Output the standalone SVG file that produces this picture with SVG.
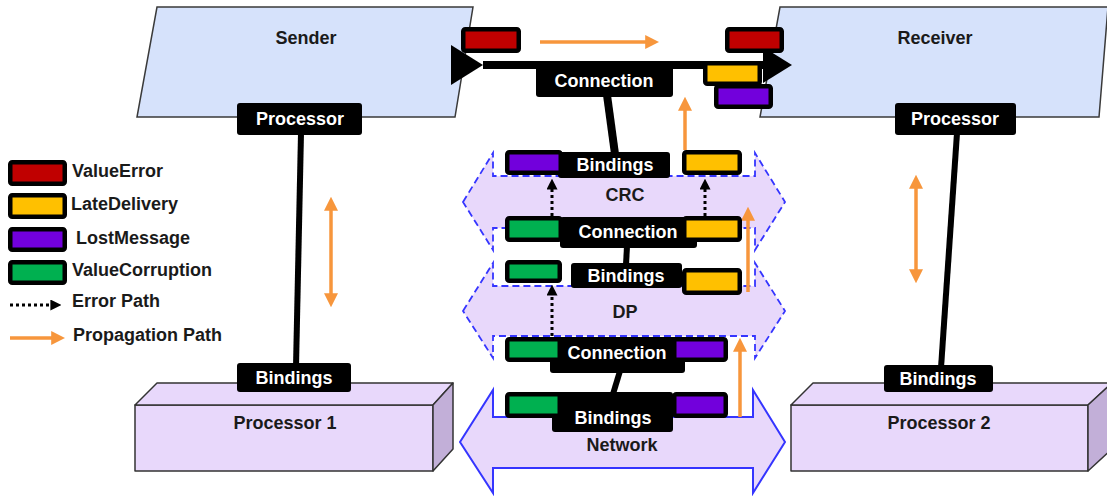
<svg xmlns="http://www.w3.org/2000/svg" width="1107" height="496" viewBox="0 0 1107 496">
<style>
text{font-family:"Liberation Sans",Arial,sans-serif;font-weight:bold;font-size:18px}
.w{fill:#fff;text-anchor:middle}
.k{fill:#1a1a1a;text-anchor:middle}
.lg{fill:#1a1a1a}
.lab{fill:#000}
.eb{stroke:#000;stroke-width:4.5}
.r{fill:#c00000}.y{fill:#ffc000}.p{fill:#7200dc}.g{fill:#00b050}
.comp{fill:#d6e2fb;stroke:#3a3a3a;stroke-width:1.5}
.box{fill:#e8d8fb;stroke:#333;stroke-width:1.5;stroke-linejoin:round}
.side{fill:#c2afd8;stroke:#333;stroke-width:1.5;stroke-linejoin:round}
.bus{fill:#e8d8fb;stroke:#3535ff;stroke-width:1.8;stroke-dasharray:7,4}
.net{fill:#e8d8fb;stroke:#3535ff;stroke-width:2}
.bl{stroke:#000;fill:none}
.or{stroke:#f7963c;stroke-width:3.5;fill:none}
.er{stroke:#000;stroke-width:3;stroke-dasharray:3,3;fill:none}
</style>
<defs>
<marker id="oa" viewBox="0 0 10 10" refX="7" refY="5" markerWidth="14" markerHeight="14" markerUnits="userSpaceOnUse" orient="auto-start-reverse"><path d="M0,0 L10,5 L0,10 z" fill="#f7963c"/></marker>
<marker id="ka" viewBox="0 0 10 10" refX="6" refY="5" markerWidth="11" markerHeight="11" markerUnits="userSpaceOnUse" orient="auto"><path d="M0,0 L10,5 L0,10 z" fill="#000"/></marker>
</defs>

<g id="sender"><polygon class="comp" points="157,7 473,7 455,117 137,117"/><text class="k" x="306" y="44">Sender</text></g>
<g id="receiver"><polygon class="comp" points="780,7 1108,7 1099,117 760,117"/><text class="k" x="935" y="44">Receiver</text></g>

<g id="processor1"><rect class="box" x="135" y="405" width="298" height="66"/><polygon class="box" points="135,405 157,383 453,383 433,405"/><polygon class="side" points="433,405 453,383 453,449 433,471"/><text class="k" x="285" y="429">Processor 1</text></g>
<g id="processor2"><rect class="box" x="791" y="405" width="297" height="66"/><polygon class="box" points="791,405 813,383 1112,383 1088,405"/><polygon class="side" points="1088,405 1112,383 1112,449 1088,471"/><text class="k" x="939" y="429">Processor 2</text></g>

<g id="crc"><polygon class="bus" points="463,202 493,153 493,176 755,176 755,153 785,202 755,250 755,228 493,228 493,250"/><text class="k" x="625" y="201">CRC</text></g>
<g id="dp"><polygon class="bus" points="463,311 493,263 493,286 755,286 755,263 785,311 755,358 755,336 493,336 493,358"/><text class="k" x="625" y="318">DP</text></g>
<g id="network"><polygon class="net" points="460,442 493,390 493,417 753,417 753,390 785,442 753,493 753,468 493,468 493,493"/><text class="k" x="622" y="451">Network</text></g>

<g id="connectors">
<line class="bl" x1="301" y1="133" x2="296" y2="367" stroke-width="6"/>
<line class="bl" x1="957" y1="133" x2="941" y2="368" stroke-width="6"/>
<line class="bl" x1="483" y1="65" x2="766" y2="65" stroke-width="8"/>
<polygon points="451,45 483,65 451,85" fill="#000"/>
<polygon points="763,47 792,65 763,83" fill="#000"/>
<line class="bl" x1="607" y1="95" x2="615" y2="154" stroke-width="8"/>
<line class="bl" x1="627" y1="246" x2="626" y2="265" stroke-width="6"/>
<line class="bl" x1="620" y1="371" x2="613" y2="394" stroke-width="6"/>
<line class="or" x1="540" y1="42" x2="655" y2="42" marker-end="url(#oa)"/>
<line class="or" x1="685" y1="150" x2="685" y2="101" marker-end="url(#oa)"/>
<line class="or" x1="748" y1="292" x2="748" y2="211" marker-end="url(#oa)"/>
<line class="or" x1="740" y1="417" x2="740" y2="342" marker-end="url(#oa)"/>
<line class="or" x1="331" y1="201" x2="331" y2="303" marker-start="url(#oa)" marker-end="url(#oa)"/>
<line class="or" x1="916" y1="179" x2="916" y2="279" marker-start="url(#oa)" marker-end="url(#oa)"/>
</g>

<g id="sender-processor"><rect class="lab" x="237" y="103" width="125" height="32" rx="3"/><text class="w" x="300" y="125">Processor</text></g>
<g id="receiver-processor"><rect class="lab" x="895" y="103" width="121" height="32" rx="3"/><text class="w" x="955" y="125">Processor</text></g>
<g id="p1-bindings"><rect class="lab" x="237" y="363" width="114" height="29" rx="3"/><text class="w" x="294" y="384">Bindings</text></g>
<g id="p2-bindings"><rect class="lab" x="884" y="365" width="109" height="27" rx="3"/><text class="w" x="938" y="385">Bindings</text></g>

<g id="top-connection">
<rect class="lab" x="536" y="62" width="137" height="35" rx="3"/><text class="w" x="604" y="87">Connection</text>
<rect class="eb r" x="463.25" y="29.25" width="55.5" height="21.5" rx="2"/>
<rect class="eb r" x="727.25" y="29.25" width="54.5" height="21.5" rx="2"/>
<rect class="eb y" x="705.25" y="63.25" width="54.5" height="20.5" rx="2"/>
<rect class="eb p" x="716.25" y="86.25" width="54.5" height="20.5" rx="2"/>
</g>

<g id="crc-bindings">
<rect class="lab" x="558" y="152" width="112" height="26" rx="3"/><text class="w" x="615" y="171">Bindings</text>
<rect class="eb p" x="507.25" y="152.25" width="53.5" height="20.5" rx="2"/>
<rect class="eb y" x="684.25" y="152.25" width="55.5" height="20.5" rx="2"/>
</g>
<g id="crc-connection">
<rect class="lab" x="560" y="217" width="137" height="31" rx="3"/>
<rect class="eb g" x="507.25" y="218.25" width="53.5" height="21.5" rx="2"/>
<rect class="eb y" x="684.25" y="218.25" width="55.5" height="21.5" rx="2"/>
<text class="w" x="628" y="238">Connection</text>
</g>
<g id="dp-bindings">
<rect class="lab" x="571" y="263" width="111" height="25" rx="3"/><text class="w" x="626" y="282">Bindings</text>
<rect class="eb g" x="507.25" y="262.25" width="52.5" height="18.5" rx="2"/>
<rect class="eb y" x="684.25" y="270.25" width="55.5" height="22.5" rx="2"/>
</g>
<g id="dp-connection">
<rect class="lab" x="550" y="337" width="135" height="36" rx="3"/>
<rect class="lab" x="520" y="337" width="190" height="25"/>
<rect class="eb g" x="507.25" y="339.25" width="52.5" height="20.5" rx="2"/>
<rect class="eb p" x="674.25" y="339.25" width="51.5" height="20.5" rx="2"/>
<text class="w" x="617" y="359">Connection</text>
</g>
<g id="network-bindings">
<rect class="lab" x="552" y="392" width="121" height="40" rx="3"/>
<rect class="eb g" x="507.25" y="394.25" width="52.5" height="21.5" rx="2"/>
<rect class="eb p" x="674.25" y="394.25" width="51.5" height="21.5" rx="2"/>
<text class="w" x="613" y="424">Bindings</text>
</g>

<g id="error-paths">
<line class="er" x1="552" y1="216" x2="552" y2="183" marker-end="url(#ka)"/>
<line class="er" x1="705" y1="216" x2="705" y2="183" marker-end="url(#ka)"/>
<line class="er" x1="552" y1="336" x2="552" y2="289" marker-end="url(#ka)"/>
</g>

<g id="legend">
<rect class="eb r" x="10.25" y="162.25" width="54.5" height="21.5" rx="2"/><text class="lg" x="72" y="177">ValueError</text>
<rect class="eb y" x="10.25" y="195.25" width="54.5" height="21.5" rx="2"/><text class="lg" x="71" y="210">LateDelivery</text>
<rect class="eb p" x="10.25" y="229.25" width="54.5" height="20.5" rx="2"/><text class="lg" x="76" y="244">LostMessage</text>
<rect class="eb g" x="10.25" y="262.25" width="54.5" height="20.5" rx="2"/><text class="lg" x="72" y="276">ValueCorruption</text>
<line class="er" x1="10" y1="305" x2="57" y2="305" marker-end="url(#ka)"/><text class="lg" x="72" y="307">Error Path</text>
<line class="or" x1="10" y1="338" x2="61" y2="338" marker-end="url(#oa)"/><text class="lg" x="73" y="341">Propagation Path</text>
</g>
</svg>
